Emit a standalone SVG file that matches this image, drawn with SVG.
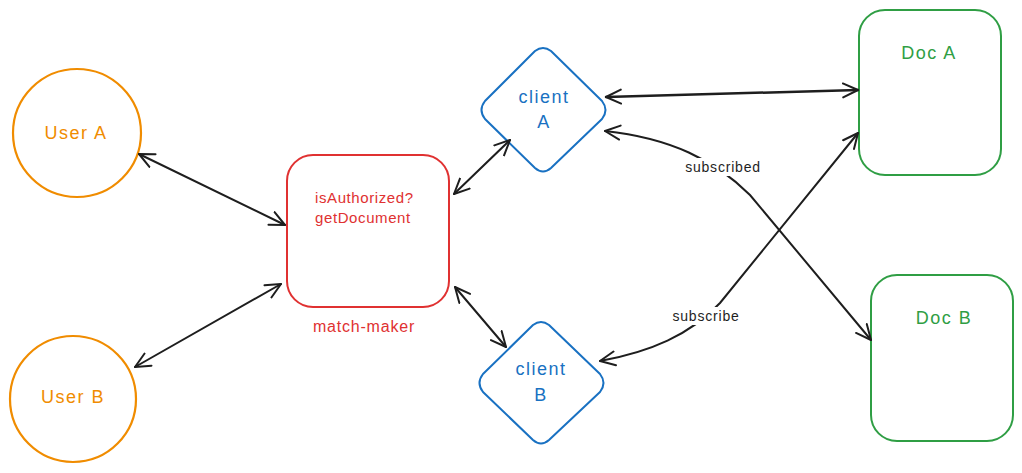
<svg xmlns="http://www.w3.org/2000/svg" width="1022" height="473" viewBox="0 0 1022 473">
<defs>
<marker id="ah" viewBox="-16 -9 18 18" refX="0" refY="0" markerWidth="18" markerHeight="18" markerUnits="userSpaceOnUse" orient="auto-start-reverse">
<path d="M-15,-7 L0,0 L-15,7" fill="none" stroke="#1e1e1e" stroke-width="2" stroke-linecap="round" stroke-linejoin="round"/>
</marker>
<style>
text{font-family:"Liberation Sans",Arial,sans-serif;text-anchor:middle;dominant-baseline:central}
.user{fill:none;stroke:#f08c00;stroke-width:2.2}
.ut{fill:#f08c00;font-size:18px;letter-spacing:1.5px}
.mm{fill:none;stroke:#e03131;stroke-width:2}
.mt{fill:#e03131;font-size:15px;letter-spacing:0.6px;text-anchor:start}
.mk{fill:#e03131;font-size:16px;letter-spacing:0.8px}
.cl{fill:none;stroke:#1971c2;stroke-width:2;stroke-linejoin:round}
.ct{fill:#1971c2;font-size:18px;letter-spacing:1.5px}
.doc{fill:none;stroke:#2f9e44;stroke-width:2}
.dt{fill:#2f9e44;font-size:18px;letter-spacing:1.5px}
.edge{fill:none;stroke:#1e1e1e;stroke-width:2;stroke-linecap:round;marker-start:url(#ah);marker-end:url(#ah)}
.lbl{fill:#1e1e1e;font-size:14px;letter-spacing:0.8px}
</style>
</defs>
<g id="userA"><circle class="user" cx="77" cy="133" r="64"/><text class="ut" x="76" y="133">User A</text></g>
<g id="userB"><circle class="user" cx="73" cy="399" r="63"/><text class="ut" x="73" y="397">User B</text></g>
<g id="matchmaker"><rect class="mm" x="287" y="155" width="162" height="152" rx="26"/>
<text class="mt" x="315" y="197">isAuthorized?</text><text class="mt" x="315" y="217">getDocument</text>
<text class="mk" x="364" y="326">match-maker</text></g>
<g id="clientA"><path class="cl" d="M535,51 Q543,45 551,51 L602,101 Q609,110 602,119 L551,168 Q543,175 535,168 L485,119 Q478,110 485,101 Z"/>
<text class="ct" x="544" y="97">client</text><text class="ct" x="544" y="122">A</text></g>
<g id="clientB"><path class="cl" d="M533,325 Q541,319 549,325 L600,374 Q607,383 600,392 L549,440 Q541,447 533,440 L483,392 Q476,383 483,374 Z"/>
<text class="ct" x="541" y="369">client</text><text class="ct" x="541" y="395">B</text></g>
<g id="docA"><rect class="doc" x="859" y="10" width="142" height="165" rx="26"/><text class="dt" x="929" y="53">Doc A</text></g>
<g id="docB"><rect class="doc" x="871" y="275" width="142" height="166" rx="26"/><text class="dt" x="944" y="318">Doc B</text></g>
<g id="connectors">
<path class="edge" d="M139,154 L285,225"/>
<path class="edge" d="M135,367 L281,284"/>
<path class="edge" d="M454,194 L510,140"/>
<path class="edge" d="M455,287 L506,347"/>
<path class="edge" d="M606,97 L858,90" style="stroke-width:2.5"/>
<path class="edge" d="M605,131 C670,138 715,160 750,195 L871,340"/>
<path class="edge" d="M600,361 C650,352 690,335 720,303 L858,133"/>
<rect x="680" y="158" width="86" height="18" fill="#fff"/>
<text class="lbl" x="723" y="167">subscribed</text>
<rect x="668" y="307" width="77" height="18" fill="#fff"/>
<text class="lbl" x="706" y="316">subscribe</text>
</g>
</svg>
